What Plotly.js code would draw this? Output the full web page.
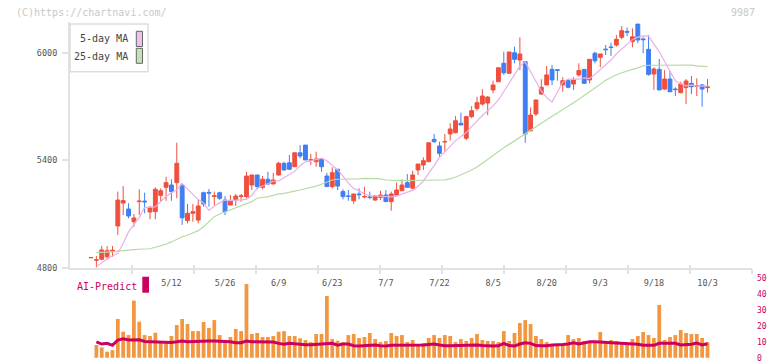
<!DOCTYPE html>
<html><head><meta charset="utf-8">
<script src="https://cdn.plot.ly/plotly-3.0.1.min.js"></script>
<style>html,body{margin:0;padding:0;background:#fff}#chart{width:772px;height:361px}</style>
</head><body><div id="chart"></div>
<script>
const dates = ['4/16','4/17','4/18','4/21','4/22','4/23','4/24','4/25','4/28','4/30','5/1','5/2','5/7','5/8','5/9','5/12','5/13','5/14','5/15','5/16','5/19','5/20','5/21','5/22','5/23','5/26','5/27','5/28','5/29','5/30','6/2','6/3','6/4','6/5','6/6','6/9','6/10','6/11','6/12','6/13','6/16','6/17','6/18','6/19','6/20','6/23','6/24','6/25','6/26','6/27','6/30','7/1','7/2','7/3','7/4','7/7','7/8','7/9','7/10','7/11','7/14','7/15','7/16','7/17','7/18','7/22','7/23','7/24','7/25','7/28','7/29','7/30','7/31','8/1','8/4','8/5','8/6','8/7','8/8','8/12','8/13','8/14','8/15','8/18','8/19','8/20','8/21','8/22','8/25','8/26','8/27','8/28','8/29','9/1','9/2','9/3','9/4','9/5','9/8','9/9','9/10','9/11','9/12','9/16','9/17','9/18','9/19','9/22','9/24','9/25','9/26','9/29','9/30','10/1','10/2','10/3'];

const openP = [4855,4842,4847,4861,4893,5033,5161,5128,5057,5169,5172,5111,5113,5204,5249,5262,5275,5262,5063,5104,5066,5219,5221,5198,5219,5178,5150,5178,5198,5197,5262,5318,5249,5294,5268,5318,5383,5386,5364,5442,5485,5400,5392,5405,5312,5253,5350,5225,5201,5174,5212,5195,5195,5178,5193,5206,5169,5206,5230,5275,5244,5346,5374,5392,5517,5480,5502,5547,5554,5607,5523,5644,5690,5714,5720,5793,5839,5942,5886,6001,5960,5951,5565,5659,5770,5821,5908,5906,5821,5845,5826,5877,5908,5849,5998,5975,6021,6033,6044,6087,6120,6063,6161,6078,6020,5882,5908,5798,5854,5798,5778,5806,5830,5813,5821,5806];
const highP = [4858,4865,4921,4921,4921,5225,5256,5160,5100,5238,5219,5145,5249,5243,5308,5294,5498,5272,5156,5156,5178,5225,5240,5225,5225,5200,5206,5212,5212,5336,5318,5318,5312,5336,5330,5392,5392,5430,5442,5485,5485,5435,5448,5411,5330,5361,5350,5238,5234,5212,5243,5253,5225,5206,5230,5234,5225,5275,5294,5323,5342,5379,5417,5498,5547,5504,5547,5607,5647,5666,5644,5703,5755,5797,5759,5845,5917,6007,6005,6035,6087,5951,5696,5737,5853,5927,5932,5908,5864,5853,5864,5942,5908,5964,6007,5994,6044,6057,6100,6150,6143,6137,6161,6087,6100,5920,5966,5904,5899,5808,5839,5854,5871,5858,5826,5854];
const lowP = [4854,4800,4843,4847,4861,4983,5093,5076,5029,5094,5104,5070,5070,5169,5174,5174,5188,5039,5048,5057,5048,5141,5141,5150,5178,5094,5150,5145,5169,5188,5234,5238,5238,5262,5265,5314,5342,5346,5364,5411,5402,5374,5364,5336,5253,5243,5234,5182,5174,5156,5182,5188,5182,5174,5178,5169,5118,5206,5230,5249,5238,5318,5346,5392,5498,5420,5448,5510,5551,5597,5513,5635,5677,5706,5652,5774,5839,5877,5886,5942,5904,5498,5560,5647,5765,5821,5821,5845,5783,5802,5793,5867,5826,5830,5942,5920,5988,5983,6035,6076,6094,6031,6054,5998,5873,5793,5793,5793,5783,5759,5774,5714,5770,5759,5699,5778];
const closeP = [4857,4844,4899,4895,4897,5178,5175,5089,5078,5172,5168,5137,5238,5230,5275,5225,5383,5079,5104,5113,5145,5156,5217,5202,5188,5113,5173,5200,5201,5312,5318,5253,5294,5268,5290,5383,5346,5350,5442,5424,5402,5403,5407,5364,5253,5331,5256,5197,5198,5212,5208,5198,5192,5200,5206,5169,5212,5234,5262,5249,5318,5379,5398,5498,5504,5439,5505,5575,5621,5597,5644,5677,5722,5759,5753,5821,5917,5889,6005,5964,5994,5547,5653,5737,5808,5877,5849,5903,5845,5808,5849,5901,5830,5964,5956,5994,6018,6030,6076,6124,6116,6090,6072,6074,5880,5910,5793,5854,5783,5795,5826,5843,5811,5816,5798,5810];

const ma5 = [null,4806,4828,4849,4865,4880,4935,5000,5042,5080,5136,5140,5140,5170,5198,5218,5235,5270,5238,5210,5181,5162,5120,5145,5162,5178,5175,5178,5180,5182,5205,5244,5256,5270,5283,5285,5302,5322,5338,5370,5392,5397,5404,5412,5397,5372,5346,5312,5272,5243,5230,5212,5203,5201,5200,5200,5196,5200,5209,5222,5232,5255,5285,5325,5370,5416,5450,5478,5510,5533,5555,5588,5622,5650,5677,5704,5737,5785,5829,5884,5926,5950,5892,5840,5788,5750,5725,5778,5837,5854,5854,5853,5860,5856,5880,5906,5934,5960,5995,6022,6050,6074,6088,6095,6094,6050,6006,5952,5896,5844,5828,5816,5820,5814,5816,5814];
const ma25 = [null,4884,4884,4886,4888,4893,4897,4899,4901,4903,4903,4906,4914,4921,4932,4944,4959,4973,4981,4992,5007,5029,5057,5085,5100,5111,5122,5135,5145,5156,5169,5188,5191,5197,5204,5212,5215,5223,5228,5234,5240,5249,5256,5266,5280,5290,5294,5294,5294,5294,5296,5299,5299,5297,5296,5290,5286,5286,5286,5286,5286,5288,5290,5290,5290,5290,5291,5296,5307,5318,5332,5346,5362,5384,5406,5430,5452,5470,5489,5509,5530,5549,5569,5588,5607,5625,5646,5664,5685,5703,5722,5741,5761,5782,5802,5825,5847,5863,5878,5889,5900,5908,5916,5928,5931,5931,5931,5932,5932,5932,5932,5932,5932,5927,5926,5923];

const volume = [null,8.0,6.5,3.8,4.8,24.3,16.3,14.2,35.8,22.6,14.2,13.6,15.7,10.0,9.4,13.6,20.5,24.3,21.1,16.7,16.7,22.4,18.6,23.6,14.2,10.0,13.0,18.0,16.7,46.2,14.9,15.5,13.0,13.0,13.6,16.3,16.7,13.6,13.6,12.2,11.1,9.8,14.9,14.9,38.7,11.7,10.7,9.8,14.2,14.9,12.4,13.0,15.5,11.7,9.8,10.5,15.5,13.6,14.2,9.8,11.1,8.6,9.2,12.4,14.2,12.4,14.2,13.6,9.8,11.7,10.5,12.4,14.9,11.1,10.5,10.5,9.8,16.7,10.5,15.5,21.8,23.6,21.1,13.6,11.7,9.8,8.0,7.3,8.0,14.2,11.7,12.4,10.5,10.5,10.5,16.1,9.8,11.1,10.5,9.8,8.0,11.7,13.6,16.1,14.2,12.4,33.1,11.1,13.0,14.2,17.4,15.5,14.9,14.9,12.4,9.8];
const aiPredict = [null,10.0,8.6,9.0,7.8,11.1,11.9,11.1,11.1,11.3,10.2,10.0,10.0,10.0,9.8,9.6,10.0,10.5,10.0,10.2,10.5,10.5,10.5,10.5,10.5,10.2,10.0,9.4,9.4,10.5,10.0,10.0,10.0,10.0,9.8,9.0,8.4,9.0,8.6,8.4,8.2,8.2,8.3,8.4,8.6,9.0,7.9,8.6,8.6,7.5,7.3,7.5,8.0,8.0,7.5,7.3,7.8,7.8,7.8,7.8,7.8,7.8,8.0,8.3,8.6,8.0,7.5,7.5,7.6,7.8,7.8,8.0,8.0,7.6,7.3,7.3,7.5,9.0,7.6,7.3,8.6,9.4,9.0,7.6,7.5,7.5,8.0,8.0,8.3,8.6,9.4,8.6,9.4,10.0,10.0,9.8,9.4,9.2,9.2,9.2,8.8,8.6,8.4,7.8,7.6,7.8,9.0,9.0,9.0,9.0,8.0,8.0,8.4,9.2,8.0,8.8];

const dateTicks = ['5/12','5/26','6/9','6/23','7/7','7/22','8/5','8/20','9/3','9/18','10/3'];
const priceTicks = [4800, 5400, 6000];
const volTicks = [0, 10, 20, 30, 40, 50];

const RED = '#f04f3e', BLUE = '#3f7ff2', PINK = '#e8b0e8', GREEN = '#b6dca6';
const ORANGE = '#f2963f', CRIMSON = '#cc0060', AXIS = '#e2e2e2';
const FONT = 'DejaVu Sans Mono';

const traces = [
  {type:'scatter', mode:'lines', x:dates, y:ma25, line:{color:GREEN, width:1.2}, xaxis:'x', yaxis:'y', hoverinfo:'skip'},
  {type:'scatter', mode:'lines', x:dates, y:ma5, line:{color:PINK, width:1.2}, xaxis:'x', yaxis:'y', hoverinfo:'skip'},
  {type:'candlestick', x:dates, open:openP, high:highP, low:lowP, close:closeP, xaxis:'x', yaxis:'y',
   increasing:{line:{color:RED, width:1}, fillcolor:RED},
   decreasing:{line:{color:BLUE, width:1}, fillcolor:BLUE},
   whiskerwidth:0, hoverinfo:'skip'},
  {type:'bar', x:dates, y:volume, xaxis:'x2', yaxis:'y2', marker:{color:ORANGE, line:{width:0}}, width:0.7, hoverinfo:'skip'},
  {type:'scatter', mode:'lines', x:dates, y:aiPredict, xaxis:'x2', yaxis:'y2', line:{color:CRIMSON, width:3}, hoverinfo:'skip'},
  {type:'scatter', x:[], y:[], xaxis:'x3', yaxis:'y', hoverinfo:'skip', showlegend:false},
  {type:'scatter', x:[], y:[], xaxis:'x4', yaxis:'y', hoverinfo:'skip', showlegend:false}
];

const W = 682, H = 337, L = 70, T = 22;
const px = v => (v - L) / W;
const py = v => (T + H - v) / H;

const layout = {
  width:772, height:361,
  margin:{l:70, r:20, t:22, b:2},
  paper_bgcolor:'#fff', plot_bgcolor:'rgba(0,0,0,0)',
  showlegend:false,
  boxgap:0.28, boxgroupgap:0,
  bargap:0.3,
  font:{family:FONT, size:9, color:'#555'},
  xaxis:{type:'category', domain:[0,1], anchor:'y', range:[-3.92, 123.3],
    showline:true, linecolor:AXIS, linewidth:2, ticks:'', showgrid:false, zeroline:false,
    tickmode:'array', tickvals:dateTicks, ticktext:dateTicks,
    tickfont:{family:FONT, size:8.5, color:'#555'}, ticklabelstandoff:6,
    rangeslider:{visible:false}, fixedrange:true},
  xaxis2:{type:'category', matches:'x', anchor:'y2', domain:[0,1], showline:false, ticks:'', showticklabels:false, showgrid:false, zeroline:false, rangeslider:{visible:false}},
  xaxis3:{overlaying:'x', anchor:'y', range:[0,11], tickmode:'array', tickvals:[1,2,3,4,5,6,7,8,9,10,11],
    ticks:'outside', ticklen:5, tickwidth:2, tickcolor:AXIS, showticklabels:false, showline:false, showgrid:false, zeroline:false},
  xaxis4:{overlaying:'x', anchor:'y', range:[0,11], tickmode:'array', tickvals:[1,2,3,4,5,6,7,8,9,10,11],
    ticks:'inside', ticklen:3, tickwidth:2, tickcolor:AXIS, showticklabels:false, showline:false, showgrid:false, zeroline:false},
  yaxis:{domain:[py(267.7), 1], anchor:'x', range:[4800, 6172.6],
    showline:true, linecolor:AXIS, linewidth:2, showgrid:false, zeroline:false,
    tickmode:'array', tickvals:priceTicks, ticktext:priceTicks.map(String),
    ticks:'outside', ticklen:6, tickwidth:2, tickcolor:AXIS,
    tickfont:{family:FONT, size:8.5, color:'#555'}, ticklabelstandoff:3, fixedrange:true},
  yaxis2:{domain:[0, py(278)], anchor:'x2', side:'right', range:[-0.8, 50],
    showline:false, showgrid:false, zeroline:false, ticks:'', ticklabeloverflow:'allow', ticklabelshift:-4.5,
    tickmode:'array', tickvals:volTicks, ticktext:volTicks.map(String),
    tickfont:{family:FONT, size:8, color:CRIMSON}, ticklabelstandoff:4},
  shapes:[
    {type:'rect', xref:'paper', yref:'paper', x0:px(70), x1:px(148), y0:py(71.7), y1:py(24), line:{color:'#dddddd', width:1.5}, fillcolor:'#fff', layer:'above'},
    {type:'rect', xref:'paper', yref:'paper', x0:px(136.3), x1:px(142.5), y0:py(46.5), y1:py(31.3), line:{color:'#666', width:1}, fillcolor:'#f0c0f0', layer:'above'},
    {type:'rect', xref:'paper', yref:'paper', x0:px(136.3), x1:px(142.5), y0:py(63.3), y1:py(48.3), line:{color:'#666', width:1}, fillcolor:'#c2e4b4', layer:'above'},
    {type:'rect', xref:'paper', yref:'paper', x0:px(142.3), x1:px(149), y0:py(292.7), y1:py(276.7), line:{width:0}, fillcolor:CRIMSON, layer:'above'}
  ],
  annotations:[
    {xref:'paper', yref:'paper', x:px(14), y:py(12), xanchor:'left', yanchor:'middle', showarrow:false, text:'(C)https://chartnavi.com/', font:{family:FONT, size:10, color:'#c8c8c8'}},
    {xref:'paper', yref:'paper', x:px(757), y:py(12), xanchor:'right', yanchor:'middle', showarrow:false, text:'9987', font:{family:FONT, size:10, color:'#c8c8c8'}},
    {xref:'paper', yref:'paper', x:px(130), y:py(39), xanchor:'right', yanchor:'middle', showarrow:false, text:'5-day MA', font:{family:FONT, size:10, color:'#444'}},
    {xref:'paper', yref:'paper', x:px(130), y:py(56), xanchor:'right', yanchor:'middle', showarrow:false, text:'25-day MA', font:{family:FONT, size:10, color:'#444'}},
    {xref:'paper', yref:'paper', x:px(75), y:py(286), xanchor:'left', yanchor:'middle', showarrow:false, text:'AI-Predict', font:{family:FONT, size:10, color:CRIMSON}}
  ]
};

Plotly.newPlot('chart', traces, layout, {displayModeBar:false, staticPlot:true});
</script></body></html>
